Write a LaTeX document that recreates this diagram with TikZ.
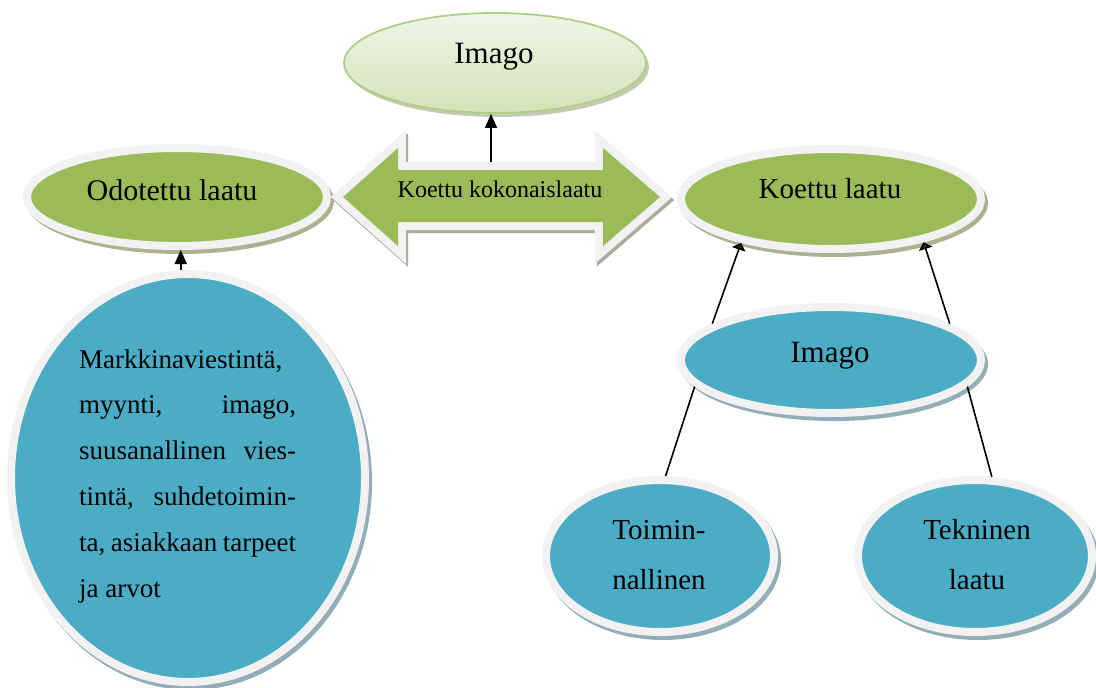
\documentclass[tikz,border=0pt]{standalone}
\usepackage{fontspec}
\setmainfont{Liberation Serif}
\usetikzlibrary{shapes.geometric, arrows.meta, calc}

\definecolor{leaf}{HTML}{9BBB59}
\definecolor{sea}{HTML}{4BACC6}
\definecolor{rim}{HTML}{F2F2F2}
\definecolor{leafshade}{HTML}{A9B392}
\definecolor{seashade}{HTML}{94AEB8}
\definecolor{arrowshade}{HTML}{A7AE9C}
\definecolor{paletop}{HTML}{F0F5E8}
\definecolor{palebot}{HTML}{D4E3B9}
\definecolor{paleedge}{HTML}{B3CD86}
\definecolor{tipdark}{HTML}{27301C}

% ringed ellipse: name, x, y, outer x radius, outer y radius, fill, shadow
\newcommand\ringnode[7]{%
  \fill[#7] (#2+3,#3+4) ellipse [x radius=#4, y radius=#5];
  \node[ring, fill=#6, minimum width={2*#4-8}, minimum height={2*#5-8}] (#1) at (#2,#3) {};
}

% outline of the two-headed arrow (inner green edge)
\newcommand\twinarrow{(343,197) -- (398,148) -- (398,170) -- (603,170) -- (603,148)
  -- (660,197) -- (603,246) -- (603,222) -- (398,222) -- (398,246) -- cycle}

\tikzset{
  ring/.style={shape=ellipse, inner sep=0pt, line width=8pt, draw=rim},
  conn/.style={draw=black, line width=1.6pt},
  uparrow/.style={conn, -{Triangle[width=12pt,length=14pt]}},
  tiparrow/.style={conn, -{Triangle[width=14pt,length=7pt,fill=tipdark]}},
  caption/.style={anchor=base, inner sep=0pt, text=black},
}

\begin{document}
\begin{tikzpicture}[x=1pt, y=-1pt]
\useasboundingbox (0,0) rectangle (1096,688);

% top "Imago" ellipse with pale gradient
\fill[leafshade!70] (498,67) ellipse [x radius=151, y radius=50];
\node[ellipse, inner sep=0pt, draw=paleedge, line width=1.8pt,
      top color=paletop, bottom color=palebot,
      minimum width=302, minimum height=100] (imagoT) at (495,63) {};
\node[caption, font=\fontsize{31}{36}\selectfont] (imagoTtxt) at (494,63) {Imago};

% green ellipses
\ringnode{odot}{177}{197}{154}{53}{leaf}{leafshade}
\ringnode{koettu}{831}{199}{154}{54}{leaf}{leafshade}
\node[caption, font=\fontsize{30}{36}\selectfont] (odottxt) at (172,200) {Odotettu laatu};
\node[caption, font=\fontsize{29}{35}\selectfont] (koettutxt) at (830,198) {Koettu laatu};

% two-headed arrow
\draw[arrowshade, line width=16pt, line join=miter, shift={(2,3)}] \twinarrow;
\draw[rim, line width=16pt, line join=miter] \twinarrow;
\fill[leaf] \twinarrow;
\node[caption, font=\fontsize{24}{29}\selectfont] (kok) at (500,197) {Koettu kokonaislaatu};
\coordinate (twintop) at (491,162);

% blue ellipses
\ringnode{big}{188}{478}{181}{208}{sea}{seashade}
\ringnode{imagoB}{831}{360}{154}{57}{sea}{seashade}
\ringnode{toim}{660}{556}{118}{80}{sea}{seashade}
\ringnode{tekn}{975}{556}{121}{80}{sea}{seashade}

\node[caption, font=\fontsize{31}{36}\selectfont] (imagoBtxt) at (830,362) {Imago};
\node[caption, font=\fontsize{29}{50}\selectfont] (toimtxt) at (659,539)
  {\vtop{\halign{\hfil#\hfil\cr Toimin-\cr nallinen\cr}}};
\node[caption, font=\fontsize{29}{50}\selectfont] (tekntxt) at (977,539)
  {\vtop{\halign{\hfil#\hfil\cr Tekninen\cr laatu\cr}}};
\node[caption, anchor=base west, font=\fontsize{27}{45.8}\selectfont] (bigtxt) at (79,368)
  {\vtop{%
    \hbox{Markkinaviestintä,}
    \hbox to 217pt{myynti,\hfill imago,}
    \hbox to 217pt{suusanallinen\hfill vies-}
    \hbox to 217pt{tintä,\hfill suhdetoimin-}
    \hbox to 217pt{ta,\hfill asiakkaan\hfill tarpeet}
    \hbox{ja arvot}}};

% connectors
\draw[uparrow] (twintop) -- (twintop |- imagoT.south);
\draw[uparrow] (big.92) -- (big.92 |- odot.south);
\draw[tiparrow] (imagoB.163) -- (koettu.206);
\draw[tiparrow] (imagoB.17) -- (koettu.335);
\draw[conn] (toim.86) -- (imagoB.191);
\draw[conn] (tekn.78) -- (imagoB.349);
\end{tikzpicture}
\end{document}
